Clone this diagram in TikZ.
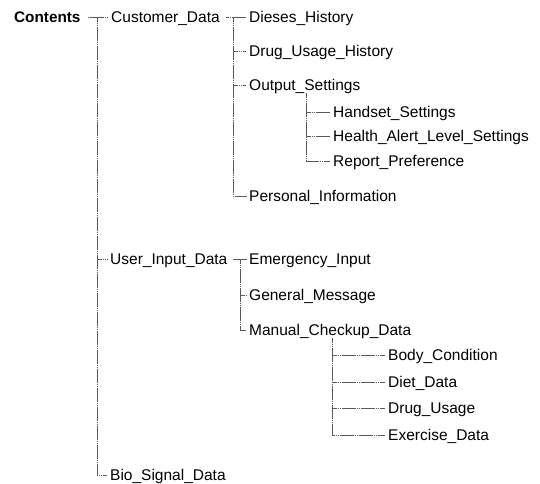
\documentclass[tikz,border=0pt]{standalone}
\usepackage{fontspec}
\setmainfont{Liberation Sans}
\begin{document}
\begin{tikzpicture}[x=1pt,y=-1pt,
  lbl/.style={anchor=west,inner sep=0pt,text height=11pt,text depth=0pt,font=\fontsize{15.5}{18}\selectfont},
  rootlbl/.style={lbl,font=\fontsize{15.3}{18}\selectfont\bfseries},
  conn/.style={line width=0.7pt,black!65,dash pattern=on 1.6pt off 0.3pt}]
\useasboundingbox (0,0) rectangle (540,483);
% nodes
\node[rootlbl] (root) at (14,17) {Contents};
\node[lbl] (cd)  at (111,17)  {Customer\_Data};
\node[lbl] (dh)  at (249,17)  {Dieses\_History};
\node[lbl] (duh) at (249,51)  {Drug\_Usage\_History};
\node[lbl] (os)  at (249,85)  {Output\_Settings};
\node[lbl] (hs)  at (333,112) {Handset\_Settings};
\node[lbl] (ha)  at (333,136) {Health\_Alert\_Level\_Settings};
\node[lbl] (rp)  at (333,161) {Report\_Preference};
\node[lbl] (pi)  at (249,196) {Personal\_Information};
\node[lbl] (uid) at (110,259) {User\_Input\_Data};
\node[lbl] (ei)  at (249,259) {Emergency\_Input};
\node[lbl] (gm)  at (249,295) {General\_Message};
\node[lbl] (mcd) at (249,330) {Manual\_Checkup\_Data};
\node[lbl] (bc)  at (388,355) {Body\_Condition};
\node[lbl] (dd)  at (388,382) {Diet\_Data};
\node[lbl] (du)  at (388,408) {Drug\_Usage};
\node[lbl] (ed)  at (388,435) {Exercise\_Data};
\node[lbl] (bsd) at (110,475) {Bio\_Signal\_Data};
% branch points
\coordinate (t0) at (97,17);
\coordinate (t1) at (233,17);
\coordinate (t2) at (306,93);
\coordinate (t3) at (240,259);
\coordinate (t4) at (332,338);
% root level
\draw[conn] ([xshift=7pt]root.east) -- ([xshift=-3pt]cd.west);
\draw[conn] (t0) |- ([xshift=-3pt]bsd.west);
\draw[conn] (uid.west -| t0) -- ([xshift=-3pt]uid.west);
% Customer_Data
\draw[conn] ([xshift=6pt]cd.east) -- ([xshift=-3pt]dh.west);
\draw[conn] (t1) |- ([xshift=-3pt]pi.west);
\draw[conn] (duh.west -| t1) -- ([xshift=-3pt]duh.west);
\draw[conn] (os.west -| t1) -- ([xshift=-3pt]os.west);
% Output_Settings
\draw[conn] (t2) |- ([xshift=-3pt]rp.west);
\draw[conn] (hs.west -| t2) -- ([xshift=-3pt]hs.west);
\draw[conn] (ha.west -| t2) -- ([xshift=-3pt]ha.west);
% User_Input_Data
\draw[conn] ([xshift=5pt]uid.east) -- ([xshift=-3pt]ei.west);
\draw[conn] (t3) |- ([xshift=-3pt]mcd.west);
\draw[conn] (gm.west -| t3) -- ([xshift=-3pt]gm.west);
% Manual_Checkup_Data
\draw[conn] (t4) |- ([xshift=-3pt]ed.west);
\draw[conn] (bc.west -| t4) -- ([xshift=-3pt]bc.west);
\draw[conn] (dd.west -| t4) -- ([xshift=-3pt]dd.west);
\draw[conn] (du.west -| t4) -- ([xshift=-3pt]du.west);
\end{tikzpicture}
\end{document}
